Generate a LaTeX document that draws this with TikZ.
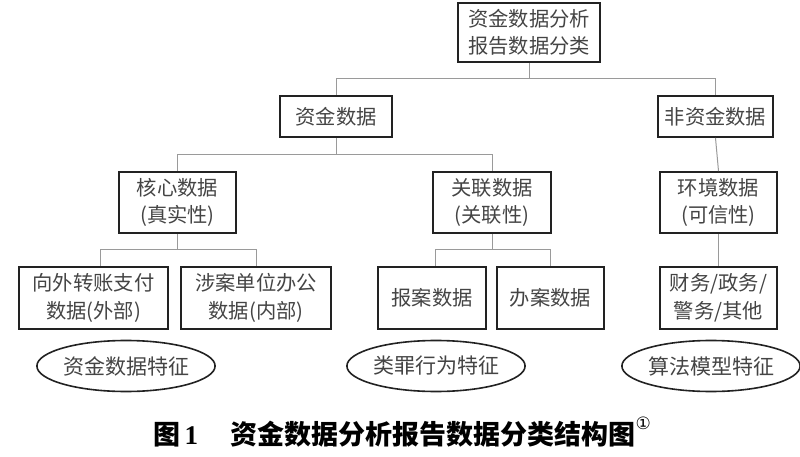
\documentclass[tikz,border=0pt]{standalone}
\usepackage{fontspec}
\newfontfamily\cjk{Noto Sans CJK SC}
\newfontfamily\tnr{Liberation Serif}
\newfontfamily\dvs{DejaVu Sans}
\usetikzlibrary{shapes.geometric}
\definecolor{txt}{HTML}{444444}
\definecolor{edge}{HTML}{222222}
\definecolor{conn}{HTML}{9A9A9A}
\tikzset{
  box/.style={draw=edge, line width=1.8pt, rectangle, inner sep=0pt, align=center,
    text=txt, font=\cjk\fontsize{20.3}{27.5}\selectfont},
  oval/.style={draw=edge, line width=1.6pt, ellipse, inner sep=0pt,
    minimum width=159pt, minimum height=51pt, text=txt, font=\cjk\fontsize{21}{27}\selectfont},
  link/.style={draw=conn, line width=1pt}
}
\begin{document}
\begin{tikzpicture}[x=1pt,y=1pt]
\useasboundingbox (0,0) rectangle (800,-457);
% level 0
\node[box, minimum width=142pt, minimum height=59pt] (top) at (529,-32.5) {资金数据分析\\报告数据分类};
% level 1
\node[box, minimum width=112pt, minimum height=41pt] (zj) at (336,-116.5) {资金数据};
\node[box, minimum width=115pt, minimum height=41pt] (fzj) at (715.5,-116.5) {非资金数据};
% level 2
\node[box, minimum width=117pt, minimum height=61pt] (hx) at (177.5,-202.5) {核心数据\\(真实性)};
\node[box, minimum width=118pt, minimum height=61pt] (gl) at (492,-202.5) {关联数据\\(关联性)};
\node[box, minimum width=117pt, minimum height=61pt] (hj) at (718.5,-202.5) {环境数据\\(可信性)};
% level 3
\node[box, minimum width=149pt, minimum height=62pt] (xw) at (93.5,-298) {向外转账支付\\数据(外部)};
\node[box, minimum width=150pt, minimum height=62pt] (sa) at (256,-298) {涉案单位办公\\数据(内部)};
\node[box, minimum width=108pt, minimum height=62pt] (ba) at (432,-298) {报案数据};
\node[box, minimum width=107pt, minimum height=62pt] (bn) at (550.5,-298) {办案数据};
\node[box, minimum width=117pt, minimum height=62pt] (cw) at (718.5,-298) {财务/政务/\\警务/其他};
% ellipses
\node[oval] (e1) at (126,-366) {资金数据特征};
\node[oval] (e2) at (436,-366) {类罪行为特征};
\node[oval] (e3) at (711,-366) {算法模型特征};
% connectors
\coordinate (b0) at (0,-79);
\coordinate (b1) at (0,-155);
\coordinate (b2) at (0,-249);
\draw[link] (top.south) -- (top.south |- b0) -| (zj.north);
\draw[link] (top.south |- b0) -| (fzj.north);
\draw[link] (zj.south) -- (zj.south |- b1) -| (hx.north);
\draw[link] (zj.south |- b1) -| (gl.north);
\draw[link] (fzj.south) -- (hj.north);
\draw[link] (hx.south) -- (hx.south |- b2) -| ([xshift=7pt]xw.north);
\draw[link] (hx.south |- b2) -| (sa.north);
\draw[link] (gl.south) -- (gl.south |- b2) -| ([xshift=3pt]ba.north);
\draw[link] (gl.south |- b2) -| (bn.north);
\draw[link] (hj.south) -- (cw.north);
% caption
\node[font=\cjk\bfseries\fontsize{27}{30}\selectfont, text=black, inner sep=0pt] (cap) at (402,-432)
  {图\,{\tnr\bfseries 1}\hspace{1.2em}资金数据分析报告数据分类结构图\raisebox{0.55em}{\dvs\mdseries\fontsize{17}{17}\selectfont ①}};
\end{tikzpicture}
\end{document}
